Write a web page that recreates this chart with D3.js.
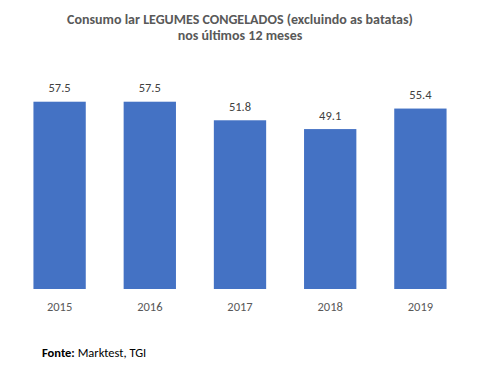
<!DOCTYPE html>
<html><head><meta charset="utf-8">
<script src="https://cdn.jsdelivr.net/npm/d3@7"></script>
<style>body{margin:0;background:#fff;} svg{display:block;}</style>
</head><body>
<svg id="c" width="480" height="366"></svg>
<script>
const years = ["2015","2016","2017","2018","2019"];
const values = [57.5, 57.5, 51.8, 49.1, 55.4];
const titleLines = ["Consumo lar LEGUMES CONGELADOS (excluindo as batatas)", "nos últimos 12 meses"];

const svg = d3.select("#c");
const font = "Calibri, Carlito, 'Open Sans', 'Liberation Sans', sans-serif";
const x = d3.scaleBand().domain(years).range([14.5, 465.5]).paddingInner(0.42).paddingOuter(0.21);
const y = d3.scaleLinear().domain([0, 70]).range([289, 61]);

svg.append("g").selectAll("rect").data(values).join("rect")
  .attr("x", (d,i)=>x(years[i])).attr("width", x.bandwidth())
  .attr("y", d=>y(d)).attr("height", d=>y(0)-y(d)).attr("fill", "#4472C4");

svg.append("g").selectAll("text").data(values).join("text")
  .attr("x", (d,i)=>x(years[i])+x.bandwidth()/2).attr("y", d=>y(d)-9.5)
  .attr("text-anchor","middle").attr("font-family",font).attr("font-size",12.5)
  .attr("fill","#404040").text(d=>d.toFixed(1));

const ax = svg.append("g").attr("transform","translate(0,289)")
  .call(d3.axisBottom(x).tickSize(0).tickPadding(13));
ax.select(".domain").remove();
ax.selectAll("text").attr("font-family",font).attr("font-size",12.5).attr("fill","#595959");

svg.append("g").selectAll("text").data(titleLines).join("text")
  .attr("x",240).attr("y",(d,i)=>24+i*16).attr("text-anchor","middle")
  .attr("font-family",font).attr("font-size",14).attr("font-weight","bold")
  .attr("fill","#595959").text(d=>d);

const src = svg.append("text").attr("x",42).attr("y",357)
  .attr("font-family",font).attr("font-size",12.5).attr("fill","#000");
src.append("tspan").attr("font-weight","bold").text("Fonte:");
src.append("tspan").text(" Marktest, TGI");
</script>
</body></html>
